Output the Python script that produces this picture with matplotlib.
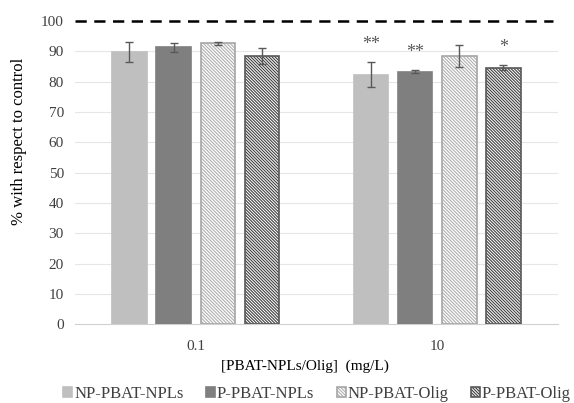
import matplotlib
matplotlib.use("Agg")
import matplotlib.pyplot as plt
import numpy as np

plt.rcParams['font.family'] = ['Liberation Serif', 'DejaVu Serif']
plt.rcParams['hatch.linewidth'] = 0.8

categories = ['0.1', '10']
series = ['NP-PBAT-NPLs', 'P-PBAT-NPLs', 'NP-PBAT-Olig', 'P-PBAT-Olig']
values = [
    [89.7, 82.3],
    [91.3, 83.3],
    [92.6, 88.4],
    [88.6, 84.6],
]
errors = [
    [3.3, 4.1],
    [1.6, 0.5],
    [0.6, 3.6],
    [2.6, 0.8],
]
stars = [
    ['', '**'],
    ['', '**'],
    ['', ''],
    ['', '*'],
]
yticks = [0, 10, 20, 30, 40, 50, 60, 70, 80, 90, 100]

faces = ['#bfbfbf', '#7f7f7f', 'white', 'white']
edges = ['#bfbfbf', '#7f7f7f', '#a6a6a6', '#595959']
hatches = [None, None, '\\' * 10, '\\' * 11]
hatch_colors = [None, None, '#b0b0b0', '#404040']

txt = '#404040'

fig = plt.figure(figsize=(5.74, 4.03), dpi=100)
ax = fig.add_axes([0.1307, 0.1953, 0.8413, 0.76])

x = np.arange(len(categories))
width = 0.143
step = 0.183
handles = []
for i, s in enumerate(series):
    pos = x + (i - 1.5) * step
    kw = dict(color=faces[i], edgecolor=edges[i], linewidth=1.2, zorder=3, label=s)
    if hatches[i]:
        kw['hatch'] = hatches[i]
    b = ax.bar(pos, values[i], width, **kw)
    if hatch_colors[i]:
        for p in b.patches:
            p._hatch_color = matplotlib.colors.to_rgba(hatch_colors[i])
    ax.errorbar(pos, values[i], yerr=errors[i], fmt='none', ecolor='#595959',
                elinewidth=1.0, capsize=3, capthick=1.0, zorder=4)
    for j in range(len(categories)):
        if stars[i][j]:
            ax.text(pos[j], values[i][j] + errors[i][j] + 4.5, stars[i][j],
                    ha='center', va='baseline', fontsize=13, color='#595959')
    handles.append(b)

ax.axhline(100, color='black', linestyle=(0, (4.5, 3.0)), linewidth=1.8, zorder=5,
           xmin=0.0, xmax=0.99)
ax.set_xlim(-0.5, 1.5)
ax.set_ylim(0, 101)
ax.set_yticks(yticks)
ax.set_xticks(x)
ax.set_xticklabels(categories)
for yv in yticks[1:-1]:
    ax.axhline(yv, color='#e6e6e6', linewidth=0.8, zorder=0)
for sp in ['top', 'right', 'left']:
    ax.spines[sp].set_visible(False)
ax.spines['bottom'].set_color('#d0d0d0')
ax.tick_params(axis='both', length=0, labelsize=11, colors=txt, pad=8)
ax.tick_params(axis='x', pad=11)

fig.text(19 / 574, 1 - 141 / 403, '% with respect to control', rotation=90,
         ha='center', va='center', fontsize=12, color='black')
fig.text(305 / 574, 1 - 366 / 403, '[PBAT-NPLs/Olig]  (mg/L)', ha='center',
         va='center', fontsize=11, color='black')

fig.legend(handles=handles, labels=series, loc='center', bbox_to_anchor=(317 / 574, 1 - 394 / 403),
           ncol=4, frameon=False, fontsize=12, handlelength=0.55, handleheight=0.55,
           handletextpad=0.1, columnspacing=1.35, labelcolor=txt, borderaxespad=0,
           borderpad=0.1)

fig.savefig('out.png', dpi=100)
